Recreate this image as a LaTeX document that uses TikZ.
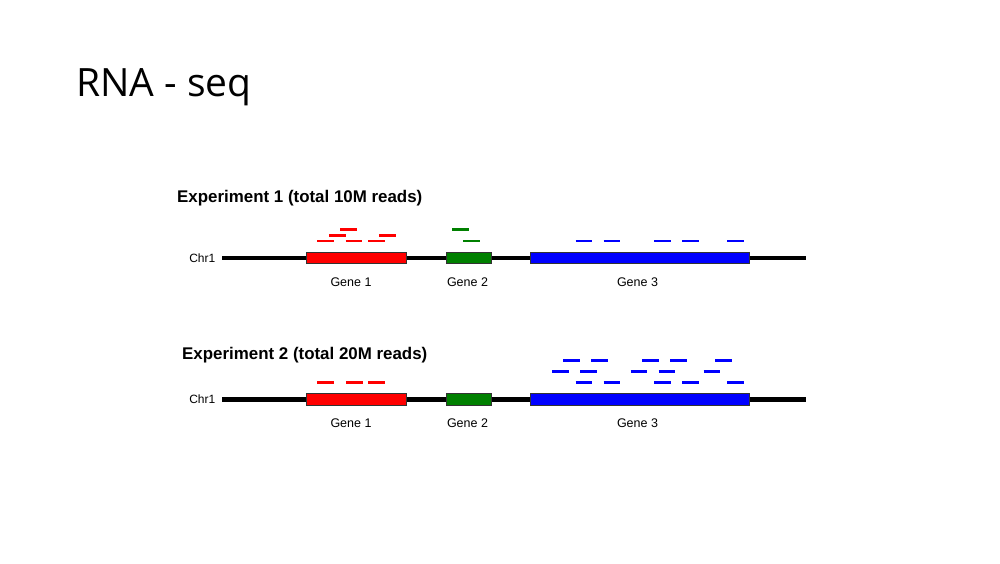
\documentclass[tikz,border=0pt]{standalone}
\usepackage{fontspec}
\setmainfont{Liberation Sans}
\newfontfamily\titlefont{Open Sans}
\begin{document}
\begin{tikzpicture}[x=1pt,y=-1pt,
  chrom/.style={line width=4.5pt,black},
  genebox/.style={draw=black!80,line width=0.8pt,minimum height=11.4pt,inner sep=0pt,outer sep=0pt},
  genelabel/.style={anchor=base,inner sep=0pt,font=\fontsize{12.5}{14}\selectfont},
  chrlabel/.style={anchor=base east,inner sep=0pt,font=\fontsize{12}{14}\selectfont},
  explabel/.style={anchor=base west,inner sep=0pt,font=\fontsize{16.9}{19}\selectfont\bfseries},
  readline/.style={line width=2.9pt,line cap=butt}]
\useasboundingbox (0,0) rectangle (1000,563);
\fill[white] (0,0) rectangle (1000,563);
\definecolor{rred}{RGB}{255,0,0}
\definecolor{rgreen}{RGB}{0,128,0}
\definecolor{rblue}{RGB}{0,0,255}

\node[anchor=base west,inner sep=0pt,font=\titlefont\fontsize{39}{47}\selectfont] (title) at (76,96) {RNA - seq};

% Experiment 1
\node[explabel] (exp1) at (177,202.5) {Experiment 1 (total 10M reads)};
\coordinate (c1a) at (222,258);
\coordinate (c1b) at (805.7,258);
\draw[chrom] (c1a) -- (c1b);
\node[chrlabel] (chr1a) at (215.5,262.3) {Chr1};
\node[genebox,fill=rred,minimum width=100.7pt] (g1a) at (356.3,258) {};
\node[genebox,fill=rgreen,minimum width=44.6pt] (g2a) at (469,258) {};
\node[genebox,fill=rblue,minimum width=219pt] (g3a) at (640.2,258) {};
\node[genelabel] (l1a) at (351,286.5) {Gene 1};
\node[genelabel] (l2a) at (467.5,286.5) {Gene 2};
\node[genelabel] (l3a) at (637.5,286.5) {Gene 3};
\foreach \x/\y in {340/229.7,329/235.3,379/235.3,317.3/241,345.7/241,368/241}
  \draw[readline,rred] (\x,\y) -- ++(16.6,0);
\foreach \x/\y in {452/229.7,463.3/241}
  \draw[readline,rgreen] (\x,\y) -- ++(16.6,0);
\foreach \x in {575.7,603.7,654.3,682.3,727.3}
  \draw[readline,rblue] (\x,241) -- ++(16.6,0);

% Experiment 2
\node[explabel] (exp2) at (182,359.5) {Experiment 2 (total 20M reads)};
\coordinate (c2a) at (222,399.3);
\coordinate (c2b) at (805.7,399.3);
\draw[chrom] (c2a) -- (c2b);
\node[chrlabel] (chr1b) at (215.5,403.6) {Chr1};
\node[genebox,fill=rred,minimum width=100.7pt] (g1b) at (356.3,399.3) {};
\node[genebox,fill=rgreen,minimum width=44.6pt] (g2b) at (469,399.3) {};
\node[genebox,fill=rblue,minimum width=219pt] (g3b) at (640.2,399.3) {};
\node[genelabel] (l1b) at (351,427.5) {Gene 1};
\node[genelabel] (l2b) at (467.5,427.5) {Gene 2};
\node[genelabel] (l3b) at (637.5,427.5) {Gene 3};
\foreach \x in {317,346,368}
  \draw[readline,rred] (\x,382.3) -- ++(16.6,0);
\foreach \x in {563.3,591,642,670,715}
  \draw[readline,rblue] (\x,360.3) -- ++(16.6,0);
\foreach \x in {552,580,630.7,658.7,703.7}
  \draw[readline,rblue] (\x,371.3) -- ++(16.6,0);
\foreach \x in {575.7,603.7,654.3,682.3,727.3}
  \draw[readline,rblue] (\x,382.3) -- ++(16.6,0);
\end{tikzpicture}
\end{document}
